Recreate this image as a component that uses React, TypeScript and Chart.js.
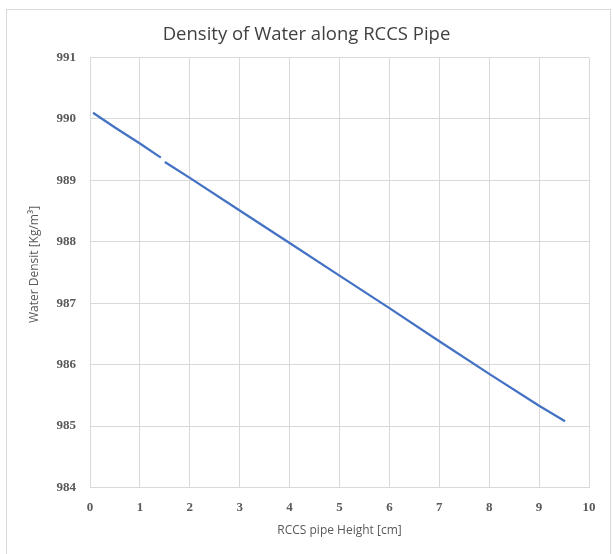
import React, { useEffect, useRef } from "react";
import { Chart, registerables } from "chart.js";

Chart.register(...registerables);

const heights: number[] = [0.06, 0.5, 1.0, 1.42, 1.46, 1.5, 2, 3, 4, 5, 6, 7, 8, 9, 9.52];
const densities: (number | null)[] = [990.1, 989.86, 989.6, 989.37, null, 989.3, 989.04, 988.51, 987.98, 987.45, 986.92, 986.38, 985.85, 985.33, 985.08];
const xTicks: number[] = [0, 1, 2, 3, 4, 5, 6, 7, 8, 9, 10];
const yTicks: number[] = [984, 985, 986, 987, 988, 989, 990, 991];

const titleText = "Density of Water along RCCS Pipe";
const xTitle = "RCCS pipe Height [cm]";
const yTitle = "Water Densit [Kg/m³]";

const yTitlePlugin = {
  id: "yTitlePlugin",
  afterDraw(chart: any) {
    const { ctx, chartArea } = chart;
    ctx.save();
    ctx.font = "12px 'Open Sans', sans-serif";
    ctx.fillStyle = "#595959";
    ctx.textAlign = "center";
    ctx.textBaseline = "middle";
    ctx.translate(35, (chartArea.top + chartArea.bottom) / 2 - 8);
    ctx.rotate(-Math.PI / 2);
    ctx.fillText(yTitle, 0, 0);
    ctx.restore();
  },
};

export default function App() {
  const ref = useRef<HTMLCanvasElement | null>(null);
  useEffect(() => {
    if (!ref.current) return;
    const tickFont = { family: "'Liberation Serif', serif", size: 13, weight: "bold" as const };
    const axisTitleFont = { family: "'Open Sans', sans-serif", size: 12 };
    const chart = new Chart(ref.current, {
      type: "line",
      data: {
        datasets: [
          {
            data: heights.map((h, i) => ({ x: h, y: densities[i] as any })),
            borderColor: "#4472C4",
            borderWidth: 2.25,
            pointRadius: 0,
            fill: false,
            spanGaps: false,
            tension: 0,
          },
        ],
      },
      options: {
        animation: false,
        responsive: false,
        layout: { padding: 0 },
        plugins: {
          legend: { display: false },
          tooltip: { enabled: false },
          title: {
            display: true,
            text: titleText,
            color: "#404040",
            font: { family: "'Open Sans', sans-serif", size: 18.5, weight: "normal" },
            padding: { top: 23.5, bottom: 11.8 },
          },
        },
        scales: {
          x: {
            type: "linear",
            min: 0,
            max: 10,
            afterBuildTicks: (s: any) => {
              s.ticks = xTicks.map((v) => ({ value: v }));
            },
            afterFit: (s: any) => {
              s.height = 66.5;
            },
            grid: { color: "#d9d9d9", drawTicks: false, lineWidth: 1 },
            border: { color: "#d9d9d9" },
            ticks: { color: "#595959", font: tickFont, padding: 12, maxRotation: 0 },
            title: {
              display: true,
              text: xTitle,
              color: "#595959",
              font: axisTitleFont,
              padding: { top: 0, bottom: 16 },
            },
          },
          y: {
            type: "linear",
            min: 984,
            max: 991,
            afterBuildTicks: (s: any) => {
              s.ticks = yTicks.map((v) => ({ value: v }));
            },
            afterFit: (s: any) => {
              s.width = 90;
            },
            grid: { color: "#d9d9d9", drawTicks: false, lineWidth: 1 },
            border: { color: "#d9d9d9" },
            ticks: { color: "#595959", font: tickFont, padding: 14 },
          },
          yRight: {
            type: "linear",
            position: "right",
            min: 984,
            max: 991,
            afterFit: (s: any) => {
              s.width = 24;
            },
            grid: { display: false, drawTicks: false },
            border: { display: false },
            ticks: { display: false },
          },
        },
      },
      plugins: [yTitlePlugin],
    });
    return () => chart.destroy();
  }, []);

  return (
    <div style={{ position: "fixed", left: 0, top: 0, width: 613, height: 554, overflow: "hidden", background: "#fff" }}>
      <div
        style={{
          position: "absolute",
          left: 6,
          top: 9,
          width: 605,
          height: 560,
          border: "1px solid #d9d9d9",
          boxSizing: "border-box",
        }}
      />
      <canvas ref={ref} width={613} height={554} style={{ position: "absolute", left: 0, top: 0 }} />
    </div>
  );
}
